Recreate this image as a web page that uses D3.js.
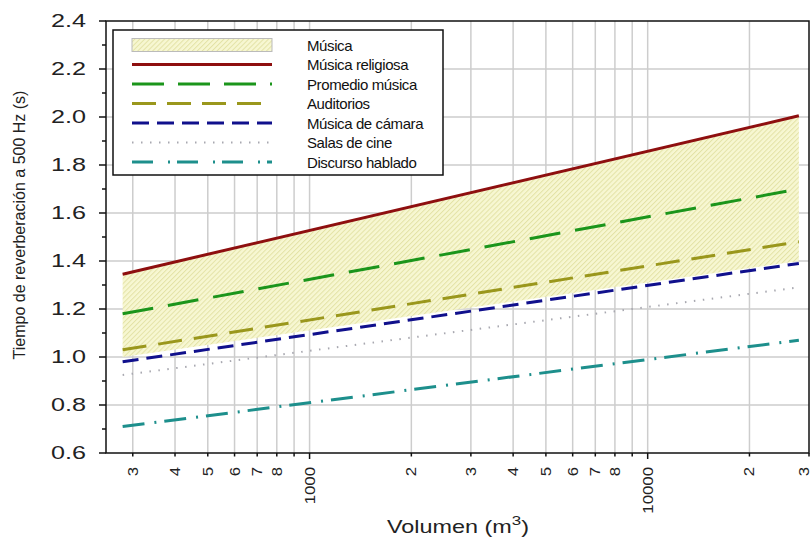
<!DOCTYPE html>
<html>
<head>
<meta charset="utf-8">
<script src="https://cdn.jsdelivr.net/npm/d3@7"></script>
<style>
  body { margin: 0; background: #fff; }
  svg { display: block; font-family: "Liberation Sans", Arial, sans-serif; }
</style>
</head>
<body>
<svg id="chart" width="811" height="537"></svg>
<script>
// data
const volumes = [280, 28000];
const bandLower = [1.0, 1.4];
const bandUpper = [1.345, 2.005];
const musicaReligiosa = [1.345, 2.005];
const promedioMusica = [1.18, 1.70];
const auditorios = [1.03, 1.48];
const musicaCamara = [0.98, 1.39];
const salasCine = [0.925, 1.29];
const discursoHablado = [0.71, 1.07];

const legendNames = ['Música', 'Música religiosa', 'Promedio música', 'Auditorios',
    'Música de cámara', 'Salas de cine', 'Discurso hablado'];

const yTicks = [0.6, 0.8, 1.0, 1.2, 1.4, 1.6, 1.8, 2.0, 2.2, 2.4];
const yMinorTicks = [0.7, 0.9, 1.1, 1.3, 1.5, 1.7, 1.9, 2.1, 2.3];
const xTicks = [300, 400, 500, 600, 700, 800, 900, 1000, 2000, 3000, 4000, 5000, 6000, 7000, 8000, 9000, 10000, 20000, 30000];
const xTickLabels = ['3', '4', '5', '6', '7', '8', '', '1000', '2', '3', '4', '5', '6', '7', '8', '', '10000', '2', '3'];

// styles for each line
const lines = [
    { values: musicaReligiosa, color: '#8e0f0f', dash: null, width: 3 },
    { values: promedioMusica, color: '#1b951b', dash: '31,15', width: 3 },
    { values: auditorios, color: '#9a971c', dash: '24,12', width: 3 },
    { values: musicaCamara, color: '#10108c', dash: '16,8', width: 3 },
    { values: salasCine, color: '#a8a8b0', dash: '1.5,7.5', width: 2 },
    { values: discursoHablado, color: '#1d8f8c', dash: '22,10,2,8', width: 3 }
];
const legendDash = [null, '32,14', '24,11', '17,8', '1.5,7.5', '21,15,2,7'];

const svg = d3.select('#chart');

const x = d3.scaleLog().domain([250, 30000]).range([106, 809]);
const y = d3.scaleLinear().domain([0.6, 2.4]).range([453, 21]);

// hatch pattern for the band
const defs = svg.append('defs');
const pat = defs.append('pattern')
    .attr('id', 'hatch')
    .attr('patternUnits', 'userSpaceOnUse')
    .attr('width', 3.5)
    .attr('height', 3.5)
    .attr('patternTransform', 'rotate(45)');
pat.append('rect').attr('width', 3.5).attr('height', 3.5).attr('fill', '#f7f7d2');
pat.append('line')
    .attr('x1', 0.5).attr('y1', 0).attr('x2', 0.5).attr('y2', 3.5)
    .attr('stroke', '#e3e2a6').attr('stroke-width', 1);

// grid
const grid = svg.append('g').attr('class', 'grid');
grid.selectAll('line.vgrid')
    .data(xTicks.filter(d => d < 30000))
    .enter()
    .append('line')
    .attr('class', 'vgrid')
    .attr('x1', d => x(d)).attr('x2', d => x(d))
    .attr('y1', y(2.4)).attr('y2', y(0.6))
    .attr('stroke', '#cdcdcd')
    .attr('stroke-width', 1.5);
grid.selectAll('line.hgrid')
    .data(yTicks.filter(d => d > 0.6 && d < 2.4))
    .enter()
    .append('line')
    .attr('class', 'hgrid')
    .attr('x1', x(250)).attr('x2', x(30000))
    .attr('y1', d => y(d)).attr('y2', d => y(d))
    .attr('stroke', '#cdcdcd')
    .attr('stroke-width', 1.5);

// band (Música)
const band = volumes.map((v, i) => ({ v: v, lo: bandLower[i], hi: bandUpper[i] }));
svg.append('path')
    .datum(band)
    .attr('fill', 'url(#hatch)')
    .attr('d', d3.area()
        .x(d => x(d.v))
        .y0(d => y(d.lo))
        .y1(d => y(d.hi)));

// series lines
const lineGen = d3.line()
    .x(d => x(d.v))
    .y(d => y(d.t));
svg.append('g').attr('class', 'lines')
    .selectAll('path')
    .data(lines)
    .enter()
    .append('path')
    .attr('d', d => lineGen(volumes.map((v, i) => ({ v: v, t: d.values[i] }))))
    .attr('fill', 'none')
    .attr('stroke', d => d.color)
    .attr('stroke-width', d => d.width)
    .attr('stroke-dasharray', d => d.dash);

// frame
svg.append('rect')
    .attr('x', x(250)).attr('y', y(2.4))
    .attr('width', x(30000) - x(250))
    .attr('height', y(0.6) - y(2.4))
    .attr('fill', 'none')
    .attr('stroke', '#111')
    .attr('stroke-width', 1.5);

// y axis ticks and labels
const yAxis = svg.append('g').attr('class', 'y-axis');
yAxis.selectAll('line.major')
    .data(yTicks)
    .enter()
    .append('line')
    .attr('x1', x(250) - 7).attr('x2', x(250))
    .attr('y1', d => y(d)).attr('y2', d => y(d))
    .attr('stroke', '#111').attr('stroke-width', 1.5);
yAxis.selectAll('line.minor')
    .data(yMinorTicks)
    .enter()
    .append('line')
    .attr('x1', x(250) - 4).attr('x2', x(250))
    .attr('y1', d => y(d)).attr('y2', d => y(d))
    .attr('stroke', '#111').attr('stroke-width', 1.5);
yAxis.selectAll('text')
    .data(yTicks)
    .enter()
    .append('text')
    .attr('transform', d => `translate(86,${y(d)}) scale(1.4,1)`)
    .attr('text-anchor', 'end')
    .attr('dominant-baseline', 'central')
    .attr('font-size', 18)
    .attr('fill', '#222')
    .text(d => d.toFixed(1));

// x axis ticks and labels
const xAxis = svg.append('g').attr('class', 'x-axis');
xAxis.selectAll('line')
    .data(xTicks)
    .enter()
    .append('line')
    .attr('x1', d => x(d)).attr('x2', d => x(d))
    .attr('y1', y(0.6))
    .attr('y2', (d, i) => y(0.6) + (xTickLabels[i].length > 1 ? 6 : 3.5))
    .attr('stroke', '#111').attr('stroke-width', 1.5);
// last label sits on the right edge, keep it inside the picture
xAxis.selectAll('text')
    .data(xTicks)
    .enter()
    .append('text')
    .attr('transform', d => `translate(${Math.min(x(d), 804)},467) rotate(-90) scale(1.2,1)`)
    .attr('text-anchor', 'end')
    .attr('dominant-baseline', 'central')
    .attr('font-size', 14)
    .attr('fill', '#222')
    .text((d, i) => xTickLabels[i]);

// axis titles
const xTitle = svg.append('text')
    .attr('transform', 'translate(458,533) scale(1.3,1)')
    .attr('text-anchor', 'middle')
    .attr('font-size', 18)
    .attr('fill', '#222');
xTitle.append('tspan').text('Volumen (m');
xTitle.append('tspan').attr('font-size', 13).attr('dy', -8).text('3');
xTitle.append('tspan').attr('dy', 8).text(')');

svg.append('text')
    .attr('transform', 'translate(25,225) rotate(-90)')
    .attr('text-anchor', 'middle')
    .attr('font-size', 16)
    .attr('fill', '#222')
    .text('Tiempo de reverberación a 500 Hz (s)');

// legend
const legend = svg.append('g').attr('class', 'legend');
legend.append('rect')
    .attr('x', 113).attr('y', 30)
    .attr('width', 330).attr('height', 145)
    .attr('fill', '#fff')
    .attr('stroke', '#111')
    .attr('stroke-width', 1.5);

const rowY = i => 45 + i * 19.5;

legend.append('rect')
    .attr('x', 132).attr('y', rowY(0) - 6.5)
    .attr('width', 140).attr('height', 13)
    .attr('fill', 'url(#hatch)')
    .attr('stroke', '#bbb')
    .attr('stroke-width', 1);

legend.selectAll('line')
    .data(lines)
    .enter()
    .append('line')
    .attr('x1', 132).attr('x2', 272)
    .attr('y1', (d, i) => rowY(i + 1)).attr('y2', (d, i) => rowY(i + 1))
    .attr('stroke', d => d.color)
    .attr('stroke-width', d => d.width)
    .attr('stroke-dasharray', (d, i) => legendDash[i]);

legend.selectAll('text')
    .data(legendNames)
    .enter()
    .append('text')
    .attr('x', 307)
    .attr('y', (d, i) => rowY(i))
    .attr('dominant-baseline', 'central')
    .attr('font-size', 15)
    .attr('letter-spacing', -0.4)
    .attr('fill', '#111')
    .text(d => d);
</script>
</body>
</html>
